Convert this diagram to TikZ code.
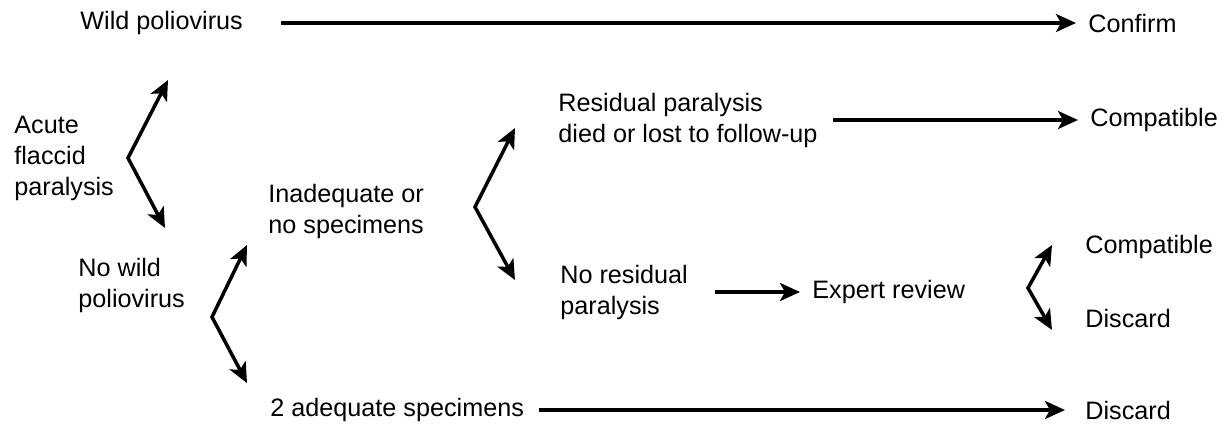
\documentclass[tikz,border=0pt]{standalone}
\usepackage{fontspec}
\setmainfont{Liberation Sans}
\usepackage{tikz}
\usetikzlibrary{arrows.meta,positioning}
\tikzset{font=\fontsize{12.6}{15.5}\selectfont}
\tikzset{every node/.append style={anchor=west,inner sep=0pt,align=left}}
\tikzset{arr/.style={line width=1.75pt,-{Stealth[length=10pt,width=9pt,inset=2.5pt]}}}
\tikzset{fork/.style={line width=1.75pt,{Stealth[length=10pt,width=9pt,inset=2.5pt]}-{Stealth[length=10pt,width=9pt,inset=2.5pt]}}}

\begin{document}
\begin{tikzpicture}[x=0.5pt,y=-0.5pt]
\useasboundingbox (0,0) rectangle (1228,427);
% left column
\node (wild) at (80,23) {Wild poliovirus};
\node (afp) at (14,158) {Acute\\flaccid\\paralysis};
\node (nowild) at (78,285) {No wild\\poliovirus};
% middle
\node (inadeq) at (268,211) {Inadequate or\\no specimens};
\node (twoadeq) at (270,410) {2 adequate specimens};
\node (resid) at (558,120) {Residual paralysis\\died or lost to follow-up};
\node (noresid) at (560,292) {No residual\\paralysis};
\node (expert) at (812,292) {Expert review};
% outcomes
\node (confirm) at (1088,23) {Confirm};
\node (compatA) at (1090,120) {Compatible};
\node (compatB) at (1085,247) {Compatible};
\node (discA) at (1085,318) {Discard};
\node (discB) at (1085,410) {Discard};
% forks
\coordinate (fa) at (128,158);
\coordinate (fa1) at (168,80);
\coordinate (fa2) at (165,228);
\coordinate (fb) at (212,317);
\coordinate (fb1) at (247,245);
\coordinate (fb2) at (247,383);
\coordinate (fc) at (475,207);
\coordinate (fc1) at (515,128);
\coordinate (fc2) at (515,280);
\coordinate (fd) at (1028,288);
\coordinate (fd1) at (1052,245);
\coordinate (fd2) at (1052,330);
\draw[fork] (fa1) -- (fa) -- (fa2);
\draw[fork] (fb1) -- (fb) -- (fb2);
\draw[fork] (fc1) -- (fc) -- (fc2);
\draw[fork] (fd1) -- (fd) -- (fd2);
% straight arrows
\draw[arr,shorten <=19pt,shorten >=6pt] (wild.east) -- (confirm.west);
\draw[arr,shorten <=7.5pt,shorten >=6pt] (resid.east) -- (resid.east -| compatA.west);
\draw[arr,shorten <=13.5pt,shorten >=6pt] (noresid.east) -- (noresid.east -| expert.west);
\draw[arr,shorten <=7.5pt,shorten >=10pt] (twoadeq.east) -- (discB.west);
\end{tikzpicture}
\end{document}
